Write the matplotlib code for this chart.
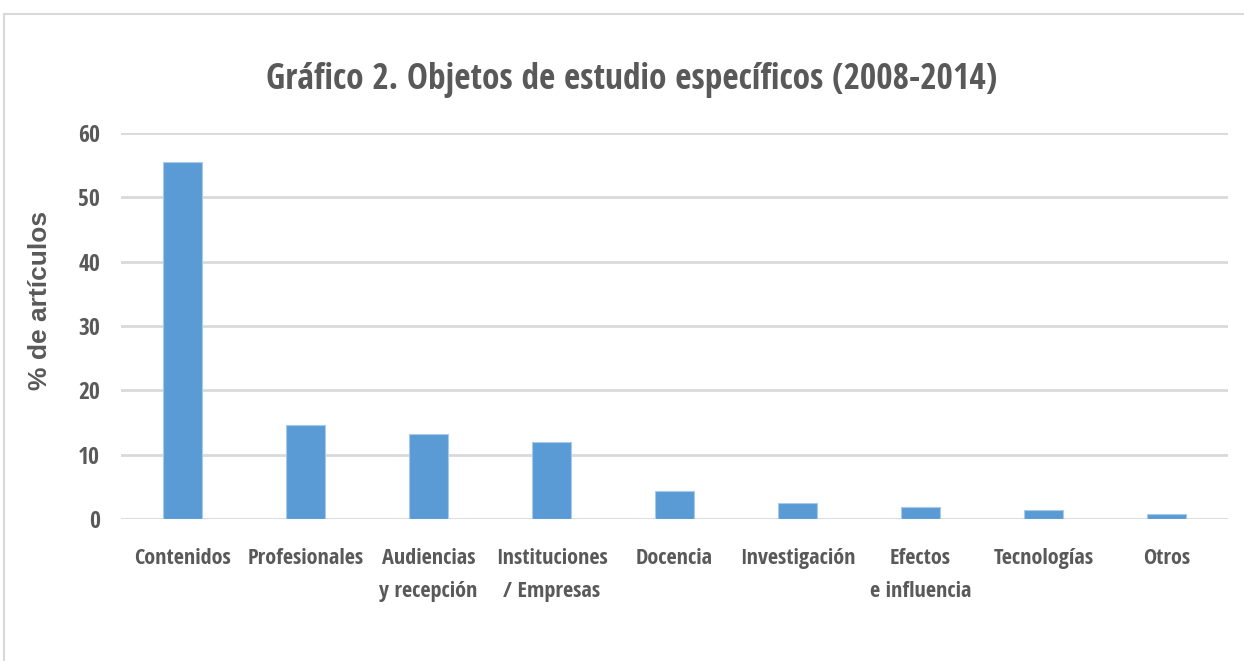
import matplotlib
matplotlib.use("Agg")
import matplotlib.pyplot as plt
from matplotlib.patches import Rectangle

categories = ["Contenidos", "Profesionales", "Audiencias\ny recepción",
              "Instituciones\n/ Empresas", "Docencia", "Investigación",
              "Efectos\ne influencia", "Tecnologías", "Otros"]
values = [55.4, 14.6, 13.2, 12.0, 4.4, 2.6, 1.9, 1.4, 0.9]
yticks = [0, 10, 20, 30, 40, 50, 60]
title = "Gráfico 2. Objetos de estudio específicos (2008-2014)"
ylabel = "% de artículos"

narrow = ["Open Sans Condensed", "DejaVu Sans"]
grey = "#595959"
fig = plt.figure(figsize=(12.44, 6.61), dpi=100)
W, H = 1244, 661
fig.add_artist(Rectangle((4 / W, -0.1), 1.2, (H - 14) / H + 0.1, transform=fig.transFigure,
                         fill=False, edgecolor="#D9D9D9", linewidth=1.5))

ax = fig.add_axes([121 / W, 1 - 519.3 / H, (1228 - 121) / W, (519.3 - 132.7) / H])
x = list(range(len(categories)))
ax.bar(x, values, width=0.31, color="#5B9BD5", edgecolor="#A9C9EA", linewidth=0.8, zorder=3)
ax.set_xlim(-0.5, len(categories) - 0.5)
ax.set_ylim(0, 60)
ax.set_yticks(yticks)
ax.set_xticks(x)
ax.set_xticklabels(categories, family=narrow, fontweight="bold", fontsize=16,
                   color=grey, linespacing=1.72, va="top")
ax.set_yticklabels([str(t) for t in yticks], family=narrow, fontweight="bold",
                   fontsize=17, color=grey)
ax.tick_params(axis="x", length=0, pad=21)
ax.tick_params(axis="y", length=0, pad=15)
ax.grid(axis="y", color="#D9D9D9", linewidth=2, zorder=0)
for s in ax.spines.values():
    s.set_visible(False)
ax.set_ylabel(ylabel, family=["Liberation Sans", "DejaVu Sans"], fontweight="bold", fontsize=19,
              color=grey)
ax.yaxis.set_label_coords(-(121 - 52) / (1228 - 121), (519.3 - 300) / (519.3 - 132.7))
fig.text(632 / W, 1 - 80 / H, title, ha="center", va="center", family=narrow,
         fontweight="bold", fontsize=25.5, color=grey)
fig.savefig("out.png", dpi=100)
